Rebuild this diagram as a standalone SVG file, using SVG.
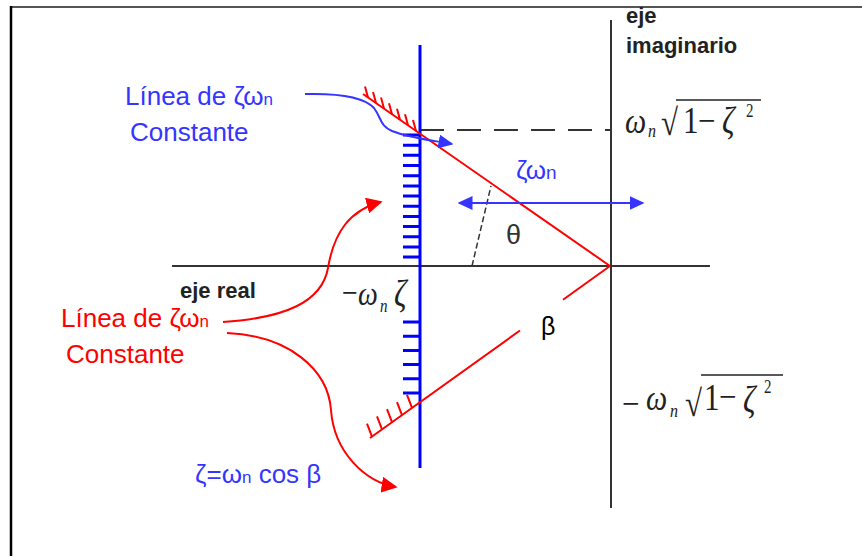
<svg xmlns="http://www.w3.org/2000/svg" width="862" height="556" viewBox="0 0 862 556">
<defs>
<style>
.sans{font-family:"Liberation Sans",Arial,sans-serif}
.lblB{fill:#3535ff;font-size:26px}
.lblR{fill:#ff0000;font-size:26px}
.sub{font-size:17px}
.axlbl{font-family:"Liberation Sans",Arial,sans-serif;font-weight:bold;font-size:22px;fill:#222}
.m{font-family:"Liberation Serif","Times New Roman",serif;fill:#222}
.mi{font-style:italic}
.axis{stroke:#333;stroke-width:2;fill:none}
.red{stroke:#ff0000;stroke-width:2;fill:none}
.blue{stroke:#0000ff;fill:none}
</style>
<marker id="ahB" viewBox="0 0 10 10" refX="9" refY="5" markerWidth="15" markerHeight="14" markerUnits="userSpaceOnUse" orient="auto-start-reverse" preserveAspectRatio="none"><path d="M0,0 L10,5 L0,10 z" fill="#3535ff"/></marker>
<marker id="ahR" viewBox="0 0 10 10" refX="9" refY="5" markerWidth="16" markerHeight="16" markerUnits="userSpaceOnUse" orient="auto" preserveAspectRatio="none"><path d="M0,0 L10,5 L0,10 z" fill="#ff0000"/></marker>
</defs>
<rect width="862" height="556" fill="#fff"/>
<g id="frame">
<line x1="10" y1="7" x2="862" y2="7" stroke="#555" stroke-width="2"/>
<line x1="11" y1="6" x2="11" y2="556" stroke="#000" stroke-width="2.5"/>
</g>
<g id="axes">
<line class="axis" x1="172" y1="266" x2="710" y2="266"/>
<line class="axis" x1="611" y1="20" x2="611" y2="508"/>
<line x1="420" y1="130" x2="610" y2="130" stroke="#333" stroke-width="2" stroke-dasharray="24 13"/>
<line x1="472" y1="266" x2="491" y2="186" stroke="#333" stroke-width="1.5" stroke-dasharray="6 3"/>
</g>
<g id="constant-zeta-line">
<line class="blue" x1="420" y1="45" x2="420" y2="468" stroke-width="3"/>
<path class="blue" stroke-width="3" d="M403,135H420M403,145.2H420M403,155.3H420M403,165.5H420M403,175.7H420M403,185.9H420M403,196H420M403,206.2H420M403,216.4H420M403,226.5H420M403,236.7H420M403,246.9H420M403,257H420M403,322H420M403,336.2H420M403,350.4H420M403,364.6H420M403,378.8H420M403,393H420"/>
</g>
<g id="beta-lines">
<line class="red" x1="610" y1="266" x2="363" y2="94"/>
<path class="red" d="M368,97.5l-3,-11M376,103l-3,-11M384,108.6l-3,-11M392,114.2l-3,-11M400,119.8l-3,-11M408,125.3l-3,-11M416,130.9l-3,-11"/>
<line class="red" x1="610" y1="266" x2="563" y2="299.7"/>
<line class="red" x1="520" y1="330.5" x2="370" y2="438"/>
<path class="red" d="M372,436.6l-5,-13M382,429.4l-5,-13M392,422.2l-5,-13M402,415.1l-5,-13M412,407.9l-5,-13"/>
</g>
<g id="connectors">
<path d="M305,94 C345,93 366,99 374,108 C382,119 380,126 392,131 C410,138 430,140 452,144" stroke="#3535ff" stroke-width="2" fill="none" marker-end="url(#ahB)"/>
<line x1="459" y1="203" x2="643" y2="203" stroke="#3535ff" stroke-width="2" marker-start="url(#ahB)" marker-end="url(#ahB)"/>
<path class="red" d="M223,322 C285,318 322,302 328,268 C334,232 350,210 381,202" marker-end="url(#ahR)"/>
<path class="red" d="M227,333 C290,336 328,370 331,410 C334,452 365,482 396,487" marker-end="url(#ahR)"/>
</g>
<g id="label-eje-imaginario">
<text class="axlbl" x="626" y="23">eje</text>
<text class="axlbl" x="626" y="53">imaginario</text>
</g>
<g id="label-eje-real">
<text class="axlbl" x="180" y="298" font-size="23">eje real</text>
</g>
<g id="label-blue-line">
<text class="sans lblB" x="125" y="105">Línea de ζω<tspan class="sub">n</tspan></text>
<text class="sans lblB" x="130" y="141">Constante</text>
</g>
<g id="label-red-line">
<text class="sans lblR" x="61" y="327">Línea de ζω<tspan class="sub">n</tspan></text>
<text class="sans lblR" x="66" y="363">Constante</text>
</g>
<g id="label-zeta-wn">
<text class="sans lblB" x="516" y="179" font-size="28">ζω<tspan font-size="19">n</tspan></text>
</g>
<g id="label-theta">
<text class="sans" x="506" y="244" font-size="27" fill="#333">θ</text>
</g>
<g id="label-beta">
<text class="sans" x="541" y="335" font-size="25" fill="#000">β</text>
</g>
<g id="label-zeta-formula">
<text class="sans lblB" x="195" y="483" font-size="25">ζ=ω<tspan class="sub">n</tspan> cos β</text>
</g>
<g id="formula-top" transform="translate(0,133) scale(1,1.2)">
<text class="m mi" x="625" y="0" font-size="30">ω</text>
<text class="m mi" x="648" y="3.5" font-size="16">n</text>
<text class="m" x="661" y="2" font-size="31">√</text>
<text class="m" x="683" y="0" font-size="31">1</text>
<text class="m" x="698" y="0" font-size="31">−</text>
<text class="m mi" x="722" y="0" font-size="31">ζ</text>
<text class="m" x="746" y="-13.5" font-size="15">2</text>
</g>
<line x1="676" y1="100" x2="761" y2="100" stroke="#222" stroke-width="1.5"/>
<g id="formula-bottom" transform="translate(0,410) scale(1,1.2)">
<text class="m" x="622" y="5" font-size="31">−</text>
<text class="m mi" x="646" y="0" font-size="30">ω</text>
<text class="m mi" x="670" y="5.5" font-size="16">n</text>
<text class="m" x="685" y="5" font-size="31">√</text>
<text class="m" x="704" y="0" font-size="31">1</text>
<text class="m" x="719" y="-1" font-size="31">−</text>
<text class="m mi" x="743" y="2" font-size="31">ζ</text>
<text class="m" x="764" y="-14" font-size="15">2</text>
</g>
<line x1="701" y1="375" x2="783" y2="375" stroke="#222" stroke-width="1.5"/>
<g id="formula-real" transform="translate(0,305) scale(1,1.2)">
<text class="m" x="342" y="-1" font-size="28">−</text>
<text class="m mi" x="358" y="0" font-size="28">ω</text>
<text class="m mi" x="380" y="5.5" font-size="15">n</text>
<text class="m mi" x="394" y="1" font-size="31">ζ</text>
</g>
</svg>
